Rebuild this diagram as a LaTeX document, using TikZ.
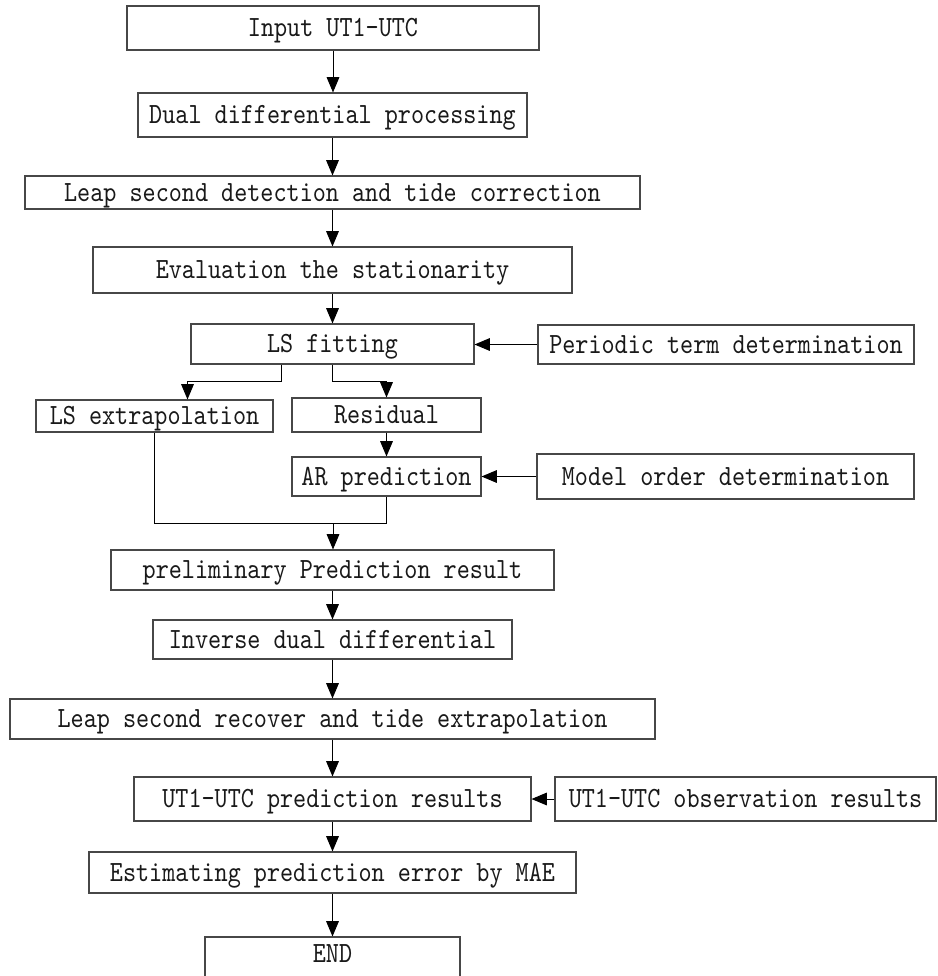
\documentclass[tikz,border=0pt]{standalone}
\usepackage{fontspec}
\newfontfamily\diagfont[FakeStretch=0.85]{lmmono10-regular.otf}
\usetikzlibrary{arrows.meta,calc}
\newcommand{\mybox}[6]{%
  \node[box, minimum width={(#4-#2)*0.75pt}, minimum height={(#5-#3)*0.75pt}]
    (#1) at ({(#2+#4)/2},{(#3+#5)/2}) {#6};}
\begin{document}
\begin{tikzpicture}[x=0.75pt,y=-0.75pt,
  box/.style={draw=black!72, line width=0.8pt, inner sep=0pt, fill=white,
    font=\diagfont\fontsize{22pt}{26pt}\selectfont, text=black!90,
    text height=13.4pt, text depth=0pt},
  conn/.style={draw=black, line width=0.75pt},
  arr/.style={conn, -{Triangle[length=11.5pt,width=9.5pt]}}]
\useasboundingbox (0,0) rectangle (938,976);
\clip (0,0) rectangle (938,976);
\mybox{in}{127}{6}{539}{50}{Input UT1-UTC}
\mybox{dual}{138}{93}{527}{137}{Dual differential processing}
\mybox{leap}{25}{176}{640}{209}{Leap second detection and tide correction}
\mybox{eval}{93}{247}{572}{293}{Evaluation the stationarity}
\mybox{ls}{191}{324}{474}{364}{LS fitting}
\mybox{per}{538}{325}{914}{364}{Periodic term determination}
\mybox{lsx}{36}{400}{273}{432}{LS extrapolation}
\mybox{res}{292}{398}{481}{432}{Residual}
\mybox{ar}{292}{457}{481}{496}{AR prediction}
\mybox{mod}{537}{454}{914}{499}{Model order determination}
\mybox{pre}{111}{550}{554}{590}{preliminary Prediction result}
\mybox{inv}{153}{620}{512}{659}{Inverse dual differential}
\mybox{rec}{10}{699}{655}{739}{Leap second recover and tide extrapolation}
\mybox{pred}{134}{777}{531}{821}{UT1-UTC prediction results}
\mybox{obs}{555}{777}{936}{821}{UT1-UTC observation results}
\mybox{est}{89}{852}{576}{893}{Estimating prediction error by MAE}
\mybox{end}{205}{937}{460}{995}{\raisebox{9pt}{END}}
\coordinate (j) at (333,523);
\draw[arr] (in.south) -- (in.south |- dual.north);
\draw[arr] (dual.south) -- (dual.south |- leap.north);
\draw[arr] (leap.south) -- (leap.south |- eval.north);
\draw[arr] (eval.south) -- (eval.south |- ls.north);
\draw[arr] (per.west) -- (per.west -| ls.east);
\draw[arr] ($(ls.south)+(-51,0)$) |- ($(lsx.north)+(33,-18)$) -- ($(lsx.north)+(33,0)$);
\draw[arr] (ls.south) |- ($(res.north)+(0,-16)$) -- (res.north);
\draw[arr] (res.south) -- (ar.north);
\draw[arr] (mod.west) -- (mod.west -| ar.east);
\draw[conn] (lsx.south) |- (ar.south |- j) -- (ar.south);
\draw[arr] (j) -- (j |- pre.north);
\draw[arr] (pre.south) -- (pre.south |- inv.north);
\draw[arr] (inv.south) -- (inv.south |- rec.north);
\draw[arr] (rec.south) -- (rec.south |- pred.north);
\draw[arr] (obs.west) -- (obs.west -| pred.east);
\draw[arr] (pred.south) -- (pred.south |- est.north);
\draw[arr] (est.south) -- (est.south |- end.north);
\end{tikzpicture}
\end{document}
